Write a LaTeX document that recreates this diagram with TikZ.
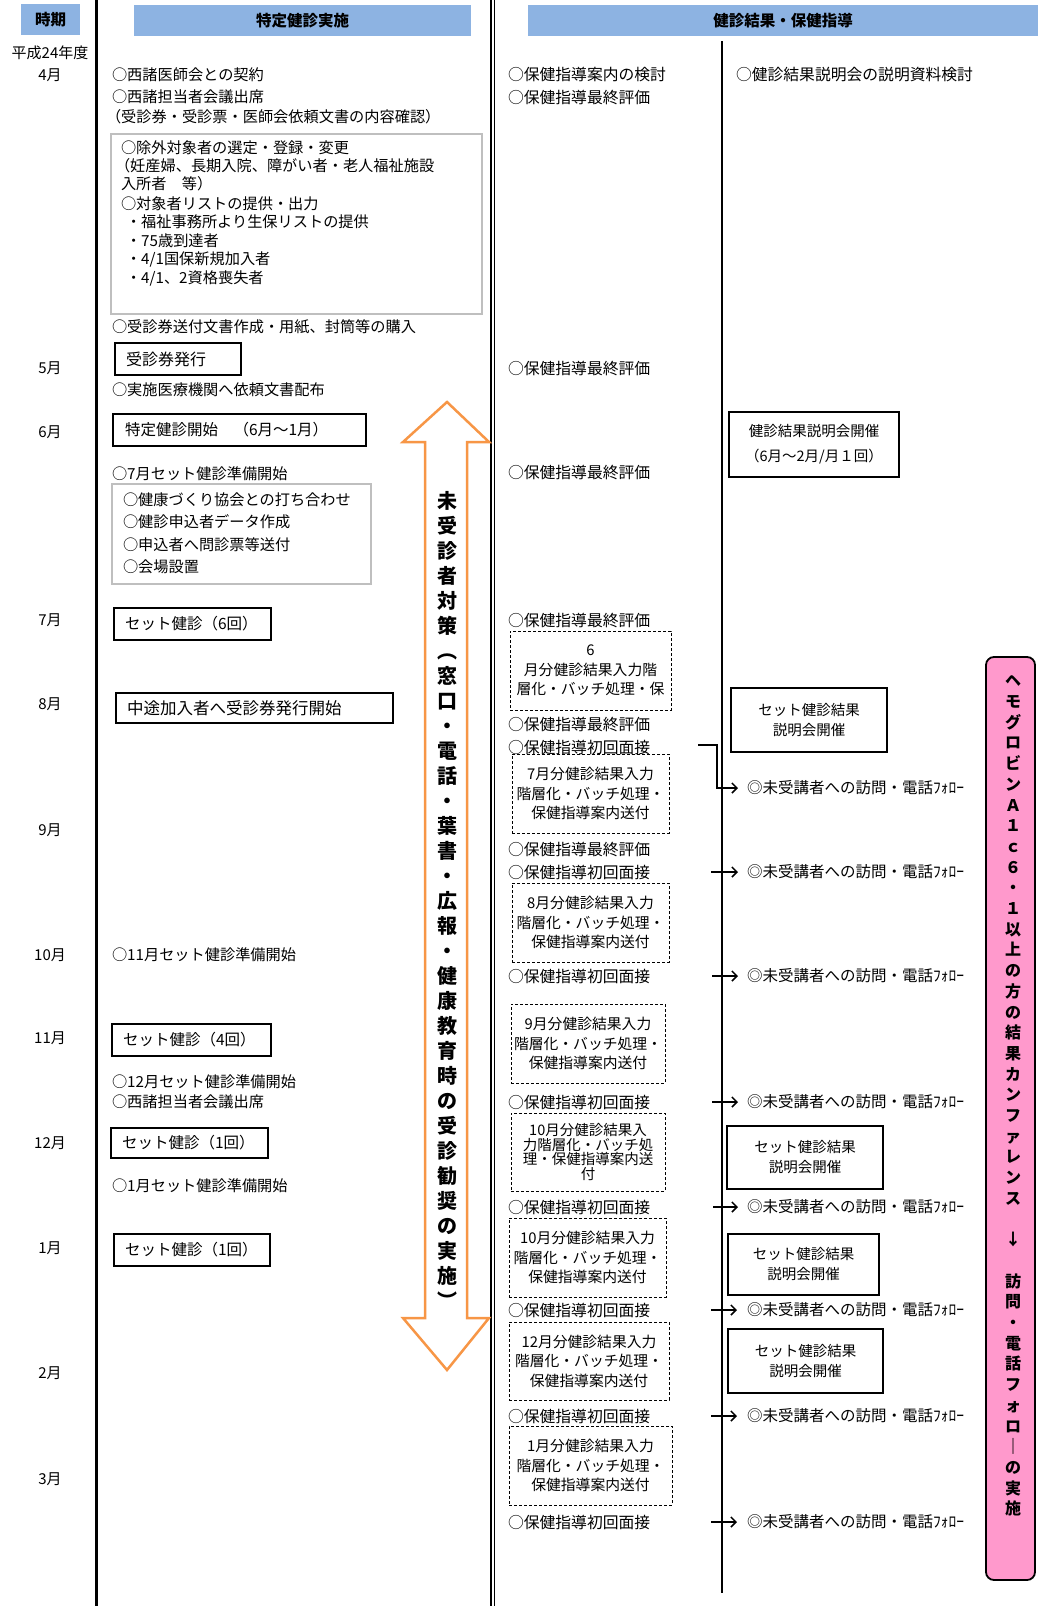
\documentclass[tikz,border=0pt]{standalone}
\usepackage{fontspec}
\setmainfont{Noto Sans CJK JP}
\usetikzlibrary{arrows.meta}
\definecolor{hdrblue}{HTML}{8DB3E2}
\definecolor{arrorange}{HTML}{F79646}
\definecolor{pinkfill}{HTML}{FF99CC}
\definecolor{boxgray}{HTML}{BFBFBF}
\newcommand\fsz[2]{\fontsize{#1}{#2}\selectfont}
\tikzset{
 every node/.style={inner sep=0pt, outer sep=0pt},
 lbl/.style={font=\fsz{15}{18}},
 txt/.style={anchor=west, font=\fsz{15.2}{18}},
 mtxt/.style={anchor=west, font=\fsz{15.8}{18}},
 hdr/.style={fill=hdrblue, anchor=north west, font=\bfseries\fsz{15.5}{18}},
 lbox/.style={draw, line width=1.6pt, anchor=north west, align=left, inner xsep=11pt, font=\fsz{15.5}{18}},
 gbox/.style={draw=boxgray, line width=1.2pt, anchor=north west},
 dbox/.style={draw, line width=0.9pt, dash pattern=on 3pt off 2pt, anchor=north west, align=center, font=\fsz{14.8}{19.5}},
 cbox/.style={draw, line width=1.6pt, anchor=north west, align=center, font=\fsz{14.5}{20}},
 fol/.style={anchor=west, font=\fsz{15.5}{18}},
 arr/.style={line width=1.5pt, -{Straight Barb[length=5pt,width=10pt]}},
}
\begin{document}
\begin{tikzpicture}[x=1pt,y=-1pt]
\useasboundingbox (0,0) rectangle (1038,1606);
% vertical rules
\draw[line width=3.5pt] (96.5,0) -- (96.5,1606);
\draw[line width=2pt] (490.5,0) -- (490.5,1606);
\draw[line width=1.3pt] (494.3,0) -- (494.3,1606);
\draw[line width=2pt] (722,41) -- (722,1593);
% headers
\node[hdr, minimum width=59, minimum height=31] (h1) at (21,4) {時期};
\node[hdr, minimum width=337, minimum height=31] (h2) at (134,5) {特定健診実施};
\node[hdr, minimum width=510, minimum height=31] (h3) at (528,5) {健診結果・保健指導};
% months
\node[lbl] (mo0) at (50,53) {平成24年度};
\node[lbl] (mo4) at (50,75) {4月};
\node[lbl] (mo5) at (50,368) {5月};
\node[lbl] (mo6) at (50,432) {6月};
\node[lbl] (mo7) at (50,620) {7月};
\node[lbl] (mo8) at (50,704) {8月};
\node[lbl] (mo9) at (50,830) {9月};
\node[lbl] (mo10) at (50,955) {10月};
\node[lbl] (mo11) at (50,1038) {11月};
\node[lbl] (mo12) at (50,1143) {12月};
\node[lbl] (mo1) at (50,1248) {1月};
\node[lbl] (mo2) at (50,1373) {2月};
\node[lbl] (mo3) at (50,1479) {3月};
% left column
\node[txt] (l1) at (112,75) {○西諸医師会との契約};
\node[txt] (l2) at (112,97) {○西諸担当者会議出席};
\node[txt] (l3) at (106,117) {（受診券・受診票・医師会依頼文書の内容確認）};
\node[gbox, minimum width=371, minimum height=180] (g1) at (111,134) {};
\node[txt] (g1a) at (121,148) {○除外対象者の選定・登録・変更};
\node[txt] (g1b) at (115,166) {（妊産婦、長期入院、障がい者・老人福祉施設};
\node[txt] (g1c) at (121,184) {入所者　等）};
\node[txt] (g1d) at (121,204) {○対象者リストの提供・出力};
\node[txt] (g1e) at (126,222) {・福祉事務所より生保リストの提供};
\node[txt] (g1f) at (126,241) {・75歳到達者};
\node[txt] (g1g) at (126,259) {・4/1国保新規加入者};
\node[txt] (g1h) at (126,278) {・4/1、2資格喪失者};
\node[txt] (l4) at (112,327) {○受診券送付文書作成・用紙、封筒等の購入};
\node[lbox, text width=104, minimum height=32, font=\fsz{16}{18}] (b1) at (115,343) {受診券発行};
\node[txt] (l5) at (112,390) {○実施医療機関へ依頼文書配布};
\node[lbox, text width=229, minimum height=32, inner xsep=12pt] (b2) at (113,414) {特定健診開始　（6月～1月）};
\node[txt] (l6) at (112,474) {○7月セット健診準備開始};
\node[gbox, minimum width=259, minimum height=100] (g2) at (112,484) {};
\node[txt] (g2a) at (123,500) {○健康づくり協会との打ち合わせ};
\node[txt] (g2b) at (123,522) {○健診申込者データ作成};
\node[txt] (g2c) at (123,545) {○申込者へ問診票等送付};
\node[txt] (g2d) at (123,567) {○会場設置};
\node[lbox, text width=135, minimum height=32] (b3) at (114,608) {セット健診（6回）};
\node[lbox, text width=255, minimum height=30, font=\fsz{16.5}{18}] (b4) at (116,693) {中途加入者へ受診券発行開始};
\node[txt] (l7) at (112,955) {○11月セット健診準備開始};
\node[lbox, text width=137, minimum height=32] (b5) at (112,1024) {セット健診（4回）};
\node[txt] (l8) at (112,1082) {○12月セット健診準備開始};
\node[txt] (l9) at (112,1102) {○西諸担当者会議出席};
\node[lbox, text width=135, minimum height=30] (b6) at (111,1128) {セット健診（1回）};
\node[txt] (l10) at (112,1186) {○1月セット健診準備開始};
\node[lbox, text width=134, minimum height=32] (b7) at (114,1234) {セット健診（1回）};
% orange double arrow
\draw[arrorange, line width=2.5pt, fill=white, line join=miter]
 (447,402) -- (489,442) -- (467,442) -- (467,1318) -- (489,1318) -- (447,1370)
 -- (403,1318) -- (425,1318) -- (425,442) -- (403,442) -- cycle;
\node[font=\bfseries\fsz{20}{25}, align=center] (vt) at (447,900)
 {未\\受\\診\\者\\対\\策\\︵\\窓\\口\\・\\電\\話\\・\\葉\\書\\・\\広\\報\\・\\健\\康\\教\\育\\時\\の\\受\\診\\勧\\奨\\の\\実\\施\\︶};
% middle column
\node[mtxt] (m1) at (508,75) {○保健指導案内の検討};
\node[mtxt] (m2) at (508,98) {○保健指導最終評価};
\node[mtxt] (m3) at (508,369) {○保健指導最終評価};
\node[mtxt] (m4) at (508,473) {○保健指導最終評価};
\node[mtxt] (m5) at (508,621) {○保健指導最終評価};
\node[dbox, minimum width=161, minimum height=79] (d1) at (510,631) {6\\月分健診結果入力階\\層化・バッチ処理・保};
\node[mtxt] (m6) at (508,725) {○保健指導最終評価};
\node[mtxt] (m7) at (508,747) {○保健指導初回面接};
\node[dbox, minimum width=157, minimum height=79] (d2) at (512,754) {7月分健診結果入力\\階層化・バッチ処理・\\保健指導案内送付};
\node[mtxt] (m8) at (508,850) {○保健指導最終評価};
\node[mtxt] (m9) at (508,872) {○保健指導初回面接};
\node[dbox, minimum width=157, minimum height=79] (d3) at (512,883) {8月分健診結果入力\\階層化・バッチ処理・\\保健指導案内送付};
\node[mtxt] (m10) at (508,976) {○保健指導初回面接};
\node[dbox, minimum width=154, minimum height=79] (d4) at (511,1004) {9月分健診結果入力\\階層化・バッチ処理・\\保健指導案内送付};
\node[mtxt] (m11) at (508,1102) {○保健指導初回面接};
\node[dbox, minimum width=154, minimum height=78, font=\fsz{14.5}{14.5}] (d5) at (511,1113) {10月分健診結果入\\力階層化・バッチ処\\理・保健指導案内送\\付};
\node[mtxt] (m12) at (508,1207) {○保健指導初回面接};
\node[dbox, minimum width=157, minimum height=79] (d6) at (509,1218) {10月分健診結果入力\\階層化・バッチ処理・\\保健指導案内送付};
\node[mtxt] (m13) at (508,1310) {○保健指導初回面接};
\node[dbox, minimum width=160, minimum height=78] (d7) at (509,1322) {12月分健診結果入力\\階層化・バッチ処理・\\保健指導案内送付};
\node[mtxt] (m14) at (508,1416) {○保健指導初回面接};
\node[dbox, minimum width=163, minimum height=79] (d8) at (509,1426) {1月分健診結果入力\\階層化・バッチ処理・\\保健指導案内送付};
\node[mtxt] (m15) at (508,1522) {○保健指導初回面接};
% right column
\node[mtxt] (r0) at (736,75) {○健診結果説明会の説明資料検討};
\node[cbox, minimum width=170, minimum height=65, font=\fsz{14.5}{25}] (rb1) at (729,412) {健診結果説明会開催\\（6月～2月/月１回）};
\node[cbox, minimum width=156, minimum height=64] (rb2) at (731,688) {セット健診結果\\説明会開催};
\node[cbox, minimum width=156, minimum height=63] (rb3) at (727,1126) {セット健診結果\\説明会開催};
\node[cbox, minimum width=151, minimum height=61] (rb4) at (728,1234) {セット健診結果\\説明会開催};
\node[cbox, minimum width=155, minimum height=64] (rb5) at (728,1329) {セット健診結果\\説明会開催};
% follow-up texts
\node[fol] (f1) at (747,788) {◎未受講者への訪問・電話ﾌｫﾛｰ};
\node[fol] (f2) at (747,872) {◎未受講者への訪問・電話ﾌｫﾛｰ};
\node[fol] (f3) at (747,976) {◎未受講者への訪問・電話ﾌｫﾛｰ};
\node[fol] (f4) at (747,1102) {◎未受講者への訪問・電話ﾌｫﾛｰ};
\node[fol] (f5) at (747,1207) {◎未受講者への訪問・電話ﾌｫﾛｰ};
\node[fol] (f6) at (747,1310) {◎未受講者への訪問・電話ﾌｫﾛｰ};
\node[fol] (f7) at (747,1416) {◎未受講者への訪問・電話ﾌｫﾛｰ};
\node[fol] (f8) at (747,1522) {◎未受講者への訪問・電話ﾌｫﾛｰ};
\coordinate (c1) at (698,745);
\coordinate (c2) at (711,872);
\coordinate (c3) at (712,976);
\coordinate (c4) at (712,1102);
\coordinate (c5) at (713,1207);
\coordinate (c6) at (711,1310);
\coordinate (c7) at (711,1416);
\coordinate (c8) at (711,1522);
\draw[arr] (c1) -| ([xshift=-30pt]f1.west) -- ([xshift=-9pt]f1.west);
\draw[arr] (c2) -- ([xshift=-9pt]f2.west);
\draw[arr] (c3) -- ([xshift=-9pt]f3.west);
\draw[arr] (c4) -- ([xshift=-9pt]f4.west);
\draw[arr] (c5) -- ([xshift=-9pt]f5.west);
\draw[arr] (c6) -- ([xshift=-10pt]f6.west);
\draw[arr] (c7) -- ([xshift=-10pt]f7.west);
\draw[arr] (c8) -- ([xshift=-10pt]f8.west);
% pink box
\node[draw, line width=1.8pt, fill=pinkfill, rounded corners=8pt, anchor=north west, minimum width=49, minimum height=923] (pk) at (986,657) {};
\node[font=\bfseries\fsz{16}{20.7}, align=center] (pt) at (1013,1096)
 {ヘ\\モ\\グ\\ロ\\ビ\\ン\\Ａ\\１\\ｃ\\６\\・\\１\\以\\上\\の\\方\\の\\結\\果\\カ\\ン\\フ\\ァ\\レ\\ン\\ス\\\mbox{}\\↓\\\mbox{}\\訪\\問\\・\\電\\話\\フ\\ォ\\ロ\\｜\\の\\実\\施};
\end{tikzpicture}
\end{document}
